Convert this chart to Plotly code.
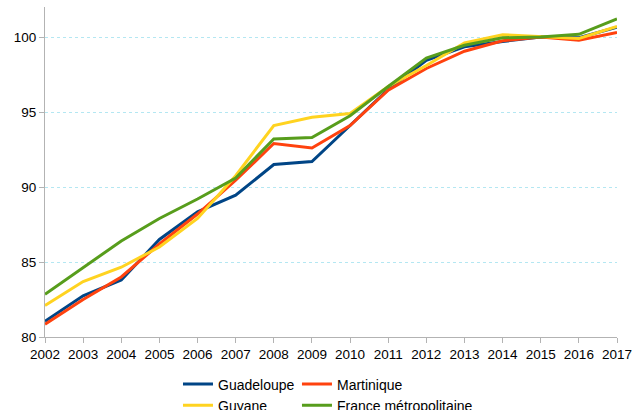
import plotly.graph_objects as go

years = list(range(2002, 2018))
guadeloupe = [81.05, 82.75, 83.8, 86.5, 88.35, 89.45, 91.5, 91.7, 94.1, 96.5, 98.45, 99.35, 99.7, 100.0, 99.95, 100.65]
martinique = [80.85, 82.5, 84.0, 86.2, 88.2, 90.45, 92.9, 92.6, 94.1, 96.45, 97.9, 99.05, 99.75, 100.0, 99.78, 100.3]
guyane = [82.1, 83.7, 84.65, 86.0, 87.9, 90.75, 94.1, 94.65, 94.9, 96.7, 98.1, 99.6, 100.15, 100.0, 99.9, 100.7]
france = [82.85, 84.6, 86.4, 87.9, 89.2, 90.6, 93.2, 93.3, 94.75, 96.7, 98.6, 99.45, 99.95, 100.0, 100.18, 101.2]

series = [
    ("Guadeloupe", guadeloupe, "#004586", "legend"),
    ("Martinique", martinique, "#ff420e", "legend2"),
    ("Guyane", guyane, "#ffd320", "legend"),
    ("France métropolitaine", france, "#579d1c", "legend2"),
]

fig = go.Figure()
for name, vals, color, leg in series:
    fig.add_trace(go.Scatter(x=years, y=vals, name=name, mode="lines",
                             line=dict(color=color, width=3), legend=leg))

tick_font = dict(family="Liberation Sans, Arial, sans-serif", size=13.5, color="#000000")
leg_font = dict(family="Liberation Sans, Arial, sans-serif", size=14, color="#000000")
fig.update_layout(
    width=642, height=410,
    margin=dict(l=45, r=25, t=7, b=73, autoexpand=False),
    paper_bgcolor="white", plot_bgcolor="white",
    font=tick_font,
    showlegend=True,
    legend=dict(orientation="v", x=0.2325, y=-0.0955, xanchor="left", yanchor="top",
                font=leg_font, bgcolor="rgba(0,0,0,0)", tracegroupgap=0),
    legend2=dict(orientation="v", x=0.4405, y=-0.0955, xanchor="left", yanchor="top",
                 font=leg_font, bgcolor="rgba(0,0,0,0)", tracegroupgap=0),
    xaxis=dict(range=[2002, 2017], tickmode="array", tickvals=years,
               ticktext=[str(y) for y in years], showgrid=False,
               showline=True, linecolor="#b3b3b3", linewidth=1,
               ticks="outside", ticklen=5, tickcolor="#b3b3b3", zeroline=False,
               tickfont=tick_font),
    yaxis=dict(range=[80, 102], tickvals=[80, 85, 90, 95, 100],
               showgrid=True, gridcolor="#b4e7f2", griddash="dot", gridwidth=1,
               showline=True, linecolor="#b3b3b3", linewidth=1,
               ticks="outside", ticklen=5, tickcolor="#b3b3b3", zeroline=False,
               tickfont=tick_font),
)

fig.write_html("out.html", config={"displayModeBar": False},
               post_script="document.body.style.margin='0';")
